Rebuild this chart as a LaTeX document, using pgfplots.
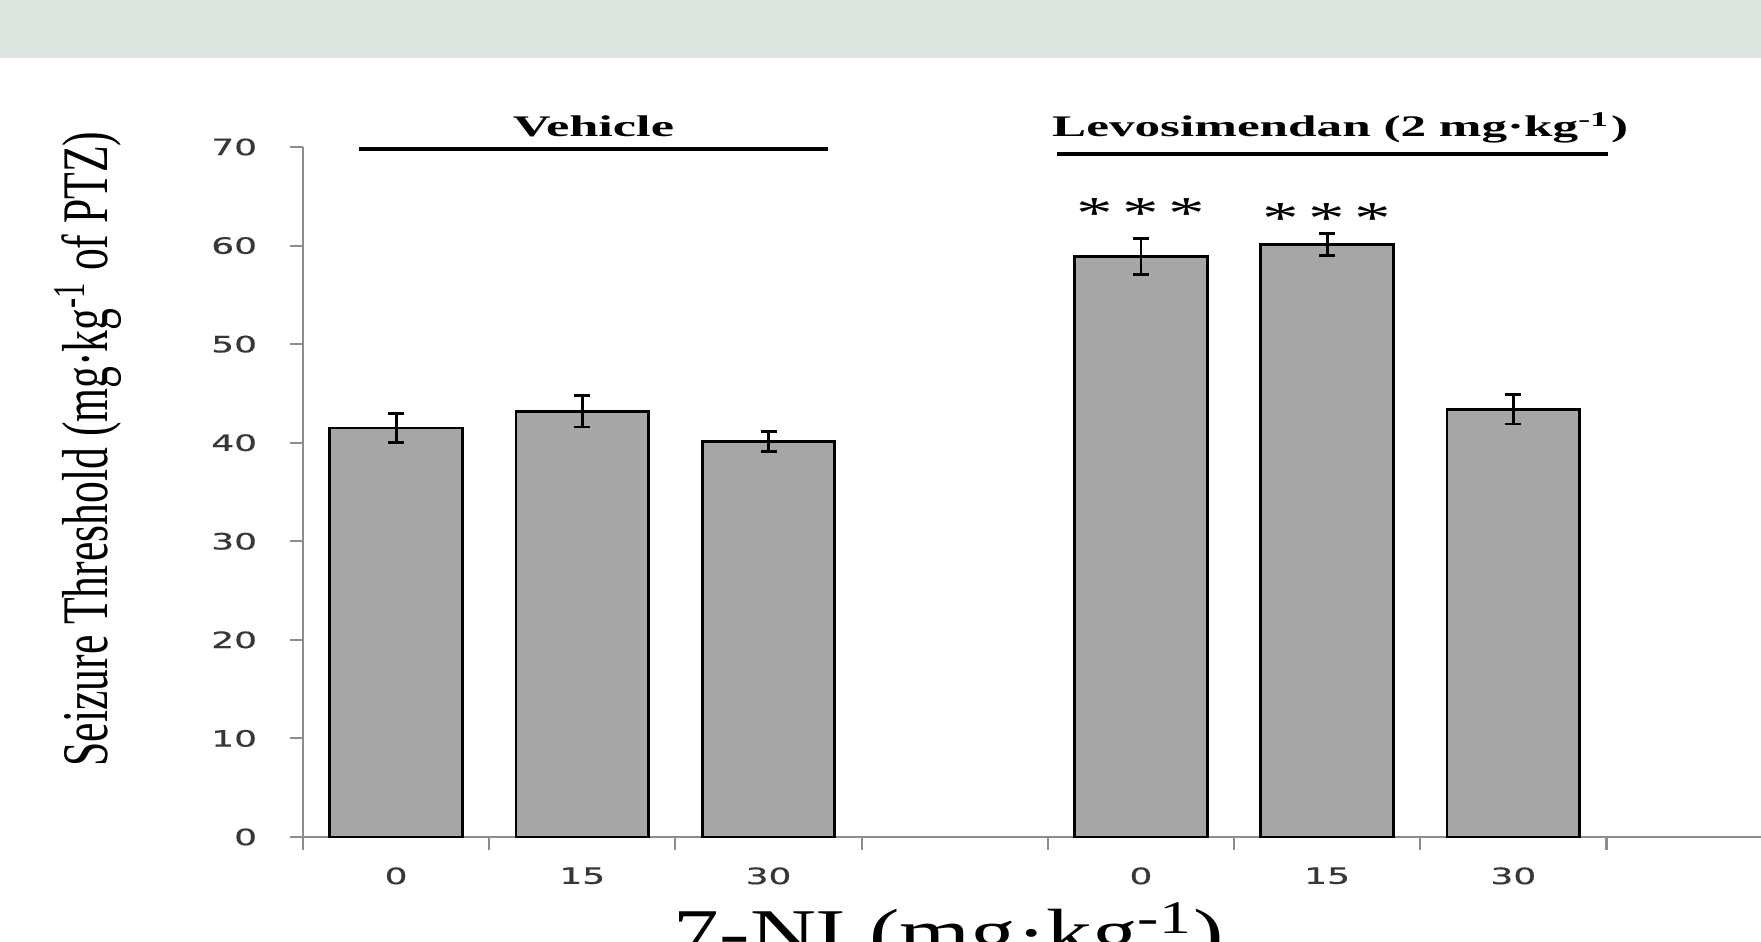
\documentclass[border=0pt]{standalone}
\usepackage{pgfplots}
\pgfplotsset{compat=1.18}
\usepackage{fontspec}
\setmainfont{Liberation Serif}
\newfontfamily\ticksfont[FakeBold=0.6]{DejaVu Sans}
\definecolor{bandcol}{RGB}{221,227,222}
\definecolor{barcol}{RGB}{166,166,166}
\definecolor{axgray}{RGB}{140,140,140}
\definecolor{labgray}{RGB}{55,55,55}
\newcommand{\sx}[1]{\scalebox{1.6}[1]{#1}}
\begin{document}
\begin{tikzpicture}[x=1mm,y=1mm]
\useasboundingbox (0,0) rectangle (176.1,94.2);
\clip (0,0) rectangle (176.1,94.2);
\fill[bandcol] (0,88.4) rectangle (176.1,94.2);
\begin{axis}[
  at={(30.3mm,10.5mm)}, anchor=south west,
  scale only axis, width=145.8mm, height=69mm,
  xmin=-0.5, xmax=7.33, ymin=0, ymax=70,
  axis x line*=bottom, axis y line*=left,
  axis line style={draw=axgray, line width=0.6pt},
  tick align=outside,
  major tick length=1.35mm,
  tick style={draw=axgray, line width=0.6pt},
  ytick={0,10,...,70},
  yticklabel={\sx{\pgfmathprintnumber{\tick}}},
  xtick={-0.5,0.5,...,6.5}, xticklabels={},
  extra x ticks={0,1,2,4,5,6},
  extra x tick labels={\sx{0},\sx{15},\sx{30},\sx{0},\sx{15},\sx{30}},
  extra x tick style={major tick length=0pt},
  tick label style={font=\ticksfont\fontsize{6.4}{8}\selectfont, text=labgray},
  /pgf/number format/assume math mode=true,
  yticklabel style={xshift=-2.0mm},
  xticklabel style={yshift=-1.8mm},
  clip=false,
]
\addplot[ybar, bar width=0.712, fill=barcol, draw=black, line width=0.8pt,
  error bars/.cd, y dir=both, y explicit,
  error bar style={black, line width=0.8pt},
  error mark options={rotate=90, mark size=0.8mm, black, line width=0.8pt}]
coordinates {
(0,41.5) +- (0,1.5)
(1,43.2) +- (0,1.6)
(2,40.1) +- (0,1.0)
(4,58.9) +- (0,1.8)
(5,60.1) +- (0,1.1)
(6,43.4) +- (0,1.5)
};
\draw[black, line width=1.3pt] (axis cs:-0.2,69.8) -- (axis cs:2.32,69.8);
\draw[black, line width=1.3pt] (axis cs:3.55,69.3) -- (axis cs:6.51,69.3);
\node[font=\fontsize{8.5}{10}\selectfont\bfseries] at (axis cs:1.06,72.1) {\resizebox{16.1mm}{\height}{Vehicle}};
\node[font=\fontsize{8.5}{10}\selectfont\bfseries] at (axis cs:5.07,71.9) {\resizebox{57.6mm}{\height}{Levosimendan (2 mg·kg\textsuperscript{-1})}};
\node[font=\fontsize{13}{13}\selectfont] at (axis cs:4,63.2) {\sx{*\hspace{0.6mm}*\hspace{0.6mm}*}};
\node[font=\fontsize{13}{13}\selectfont] at (axis cs:5,62.7) {\sx{*\hspace{0.6mm}*\hspace{0.6mm}*}};
\end{axis}
\node[rotate=90] at (8.8,49.3) {\resizebox{63.5mm}{\height}{\fontsize{18.5}{20}\selectfont Seizure Threshold (mg·kg\textsuperscript{-1} of PTZ)}};
\node[anchor=base] at (94.9,-1.4) {\resizebox{55mm}{\height}{\fontsize{19}{20}\selectfont 7-NI (mg·kg\textsuperscript{-1})}};
\end{tikzpicture}
\end{document}
